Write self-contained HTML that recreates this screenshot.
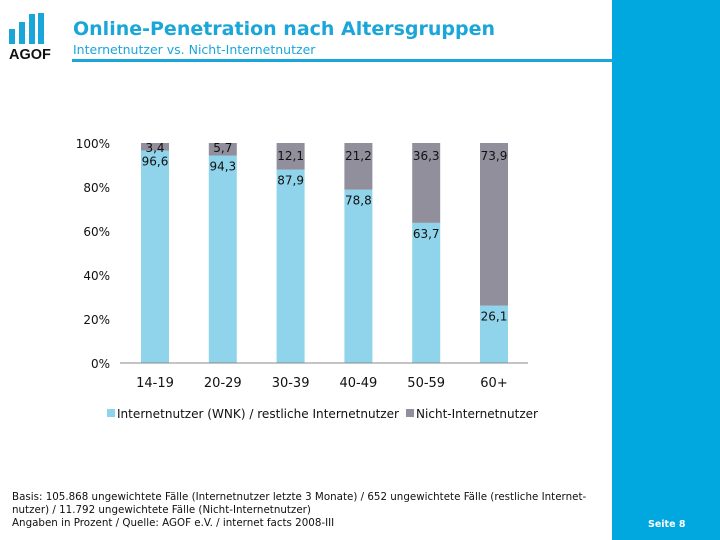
<!DOCTYPE html>
<html><head><meta charset="utf-8"><style>
body{margin:0;width:720px;height:540px;background:#fff;position:relative;overflow:hidden;font-family:"DejaVu Sans","Liberation Sans",sans-serif}
.abs{position:absolute}
</style></head><body>
<div class="abs" style="left:612px;top:0;width:108px;height:540px;background:#00a8df"></div>
<svg class="abs" style="left:0;top:0" width="70" height="65">
<rect x="9" y="29" width="6" height="15" fill="#1aa6d9"/><rect x="19" y="22" width="6" height="22" fill="#1aa6d9"/><rect x="29" y="14" width="6" height="30" fill="#1aa6d9"/><rect x="38" y="13" width="6" height="31" fill="#1aa6d9"/>
<text x="9" y="59" font-family="Liberation Sans" font-weight="bold" font-size="14.5" fill="#111">AGOF</text></svg>
<div class="abs" style="left:73px;top:18px;font-size:19px;font-weight:bold;color:#1aa6d9">Online-Penetration nach Altersgruppen</div>
<div class="abs" style="left:73px;top:42px;font-size:12.5px;color:#1aa6d9">Internetnutzer vs. Nicht-Internetnutzer</div>
<div class="abs" style="left:72px;top:59px;width:540px;height:3px;background:#1aa6d9"></div>
<svg id="chart" class="abs" style="left:0;top:0" width="612" height="440"></svg>
<div class="abs" style="left:12px;top:491px;font-size:10.3px;line-height:13px;color:#111">Basis: 105.868 ungewichtete Fälle (Internetnutzer letzte 3 Monate) / 652 ungewichtete Fälle (restliche Internet-<br>nutzer) / 11.792 ungewichtete Fälle (Nicht-Internetnutzer)<br>Angaben in Prozent / Quelle: AGOF e.V. / internet facts 2008-III</div>
<div class="abs" style="left:648px;top:519px;font-size:9.5px;font-weight:bold;color:#fff">Seite 8</div>
<script>
const categories=["14-19","20-29","30-39","40-49","50-59","60+"];
const users=[96.6,94.3,87.9,78.8,63.7,26.1];
const nonUsers=[3.4,5.7,12.1,21.2,36.3,73.9];
const yTicks=[0,20,40,60,80,100];
const svg=document.getElementById('chart');const NS="http://www.w3.org/2000/svg";
const y=v=>363-v*2.2;const x=i=>155+i*67.8;const bw=28;
function el(t,a){const e=document.createElementNS(NS,t);for(const k in a)e.setAttribute(k,a[k]);svg.appendChild(e);return e;}
yTicks.forEach(t=>{const e=el('text',{x:110,y:y(t)+5,'text-anchor':'end','font-size':12,fill:'#111'});e.textContent=t+'%';

});
categories.forEach((c,i)=>{
const b=el('rect',{x:x(i)-bw/2,y:y(users[i]),width:bw,height:y(0)-y(users[i]),fill:'#8fd4ea'});


const g=el('rect',{x:x(i)-bw/2,y:y(users[i]+nonUsers[i]),width:bw,height:y(users[i])-y(users[i]+nonUsers[i]),fill:'#918f9c'});


const go=nonUsers[i]<10?9:17;
const lg=el('text',{x:x(i),y:y(users[i]+nonUsers[i])+go,'text-anchor':'middle','font-size':12,fill:'#111'});lg.textContent=String(nonUsers[i]).replace('.',',');


const lu=el('text',{x:x(i),y:y(users[i])+15,'text-anchor':'middle','font-size':12,fill:'#111'});lu.textContent=String(users[i]).replace('.',',');


const ct=el('text',{x:x(i),y:387,'text-anchor':'middle','font-size':13,fill:'#111'});ct.textContent=c;


});
const ax=el('line',{x1:120,x2:528,y1:363,y2:363,stroke:'#888','stroke-width':1});


const l1=el('rect',{x:107,y:409,width:8,height:8,fill:'#8fd4ea'});


const t1=el('text',{x:117,y:418,'font-size':12.5,fill:'#111',textLength:282,lengthAdjust:'spacingAndGlyphs'});t1.textContent='Internetnutzer (WNK) / restliche Internetnutzer';


const l2=el('rect',{x:406,y:409,width:8,height:8,fill:'#918f9c'});


const t2=el('text',{x:416,y:418,'font-size':12.5,fill:'#111',textLength:122,lengthAdjust:'spacingAndGlyphs'});t2.textContent='Nicht-Internetnutzer';


</script>
</body></html>
